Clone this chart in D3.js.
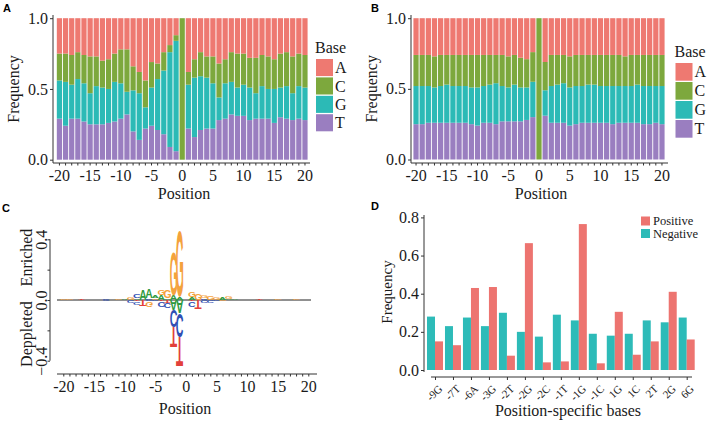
<!DOCTYPE html>
<html><head><meta charset="utf-8">
<script src="https://cdn.jsdelivr.net/npm/d3@7"></script>
<style>
html,body{margin:0;padding:0;background:#fff;}
svg{display:block;}
text{font-family:"Liberation Serif","Times New Roman",serif;}
</style></head><body>
<svg id="chart" width="708" height="422"></svg>
<script>
// ---------- data ----------
const positions = [-20,-19,-18,-17,-16,-15,-14,-13,-12,-11,-10,-9,-8,-7,-6,-5,-4,-3,-2,-1,0,1,2,3,4,5,6,7,8,9,10,11,12,13,14,15,16,17,18,19,20];
const positionTickLabels = [-20,-15,-10,-5,0,5,10,15,20];
const bases = ["A","C","G","T"];
const freqTicks = [0,0.5,1];

// Panel A (positive samples) base frequencies per position
const aT = [.29,.24,.29,.29,.27,.25,.25,.25,.26,.27,.29,.32,.20,.14,.22,.24,.21,.18,.09,.06,0,.22,.16,.21,.22,.22,.28,.29,.32,.31,.31,.28,.29,.29,.29,.26,.30,.29,.28,.29,.28];
const aG = [.27,.31,.24,.28,.27,.22,.27,.26,.24,.28,.25,.16,.29,.33,.15,.27,.36,.45,.67,.78,0,.31,.42,.38,.36,.32,.16,.25,.23,.20,.22,.23,.18,.23,.21,.24,.21,.23,.19,.23,.23];
const aC = [.19,.20,.21,.19,.20,.26,.21,.19,.21,.20,.24,.30,.17,.15,.19,.18,.11,.13,.05,.04,1,.09,.13,.17,.15,.19,.24,.17,.21,.24,.22,.21,.25,.22,.23,.21,.24,.24,.26,.23,.23];
const aA = [.25,.25,.26,.24,.26,.27,.27,.30,.29,.25,.22,.22,.34,.38,.44,.31,.32,.24,.19,.12,0,.38,.29,.24,.27,.27,.32,.29,.24,.25,.25,.28,.28,.26,.27,.29,.25,.24,.27,.25,.26];

// Panel B (negative samples)
const bT = [.25,.25,.26,.26,.26,.26,.26,.26,.26,.25,.24,.26,.26,.25,.27,.27,.27,.27,.28,.30,0,.31,.26,.26,.26,.24,.25,.26,.26,.26,.26,.26,.25,.26,.26,.26,.26,.25,.25,.26,.25];
const bG = [.27,.27,.26,.25,.26,.27,.26,.26,.26,.26,.27,.26,.27,.29,.25,.24,.26,.24,.23,.25,0,.18,.26,.27,.28,.27,.27,.26,.27,.27,.26,.26,.27,.26,.26,.26,.27,.27,.27,.26,.27];
const bC = [.22,.22,.22,.22,.22,.21,.22,.22,.22,.23,.23,.22,.21,.20,.22,.22,.21,.21,.20,.21,1,.20,.22,.21,.20,.22,.22,.22,.21,.21,.22,.22,.22,.22,.21,.22,.21,.22,.22,.22,.22];
const bA = [.26,.26,.26,.27,.26,.26,.26,.26,.26,.26,.26,.26,.26,.26,.26,.27,.26,.28,.29,.24,0,.31,.26,.26,.26,.27,.26,.26,.26,.26,.26,.26,.26,.26,.27,.26,.26,.26,.26,.26,.26];

// Panel C (two-sample logo): enriched / depleted heights per position
const logoTicks = [-0.4,-0.2,0,0.2,0.4];
const logoTickLabels = [-0.4,0,0.4];
const enrA = [0,0,0,0,0,0,0,0,0,0,.006,0,.01,.065,.06,.015,.03,.01,.03,.02,0,.02,0,0,0,0,.015,.008,.006,0,0,0,0,0,0,0,0,0,0,0,0];
const enrC = [0,0,0,0,0,0,0,.01,0,0,0,0,.025,0,.01,0,0,0,0,0,0,0,0,.01,0,0,0,0,0,0,0,0,0,0,0,0,0,0,0,0,0];
const enrG = [.005,.005,0,0,0,0,0,0,0,.004,0,.02,0,0,0,.01,.035,.05,.29,.43,0,.035,.04,.02,.025,.02,0,.012,0,0,0,0,0,0,0,.005,0,0,.004,0,0];
const enrT = [0,0,0,.005,0,0,0,0,0,0,0,0,0,0,0,0,0,0,0,0,0,0,0,0,0,0,0,0,0,0,0,0,.004,0,0,0,0,0,0,0,0];
const depA = [0,0,0,0,0,0,0,0,0,0,0,0,0,0,0,0,0,0,.066,.088,0,0,0,0,0,0,0,0,0,0,0,0,0,0,0,0,0,0,0,0,0];
const depC = [0,0,0,0,0,0,0,.008,0,0,0,.015,.015,0,.01,.01,.03,.035,.11,.154,0,.035,0,.02,.015,.01,0,0,0,0,0,0,0,0,0,0,0,0,0,0,0];
const depG = [0,0,0,0,0,0,0,0,0,0,0,0,0,0,.035,0,0,0,0,0,0,0,0,0,0,0,.005,0,0,0,0,0,0,0,0,0,0,0,0,0,0];
const depT = [0,0,0,0,0,0,0,0,0,0,0,0,.01,.045,0,0,.01,.02,.14,.198,0,.01,.055,0,0,0,0,0,0,0,0,0,0,0,0,0,0,0,0,0,0];

// Panel D
const dCategories = ["-9G","-7T","-6A","-3G","-2T","-2G","-2C","-1T","-1G","-1C","1G","1C","2T","2G","6G"];
const dNegative = [0.28,0.23,0.275,0.23,0.30,0.20,0.175,0.29,0.26,0.19,0.18,0.19,0.26,0.25,0.275];
const dPositive = [0.15,0.13,0.43,0.435,0.075,0.665,0.04,0.045,0.765,0.035,0.305,0.08,0.15,0.41,0.16];
const dTicks = [0,0.2,0.4,0.6,0.8];

// ---------- styles ----------
const baseColors = {A:"#EE7971", C:"#7DA83D", G:"#2CBAB6", T:"#9A7EC0"};
const logoColors = {A:"#2F9A3E", C:"#2F4FB4", G:"#F4A23C", T:"#E2403A"};
const dColors = {Positive:"#ED7470", Negative:"#2DBBB8"};
const axisColor = "#333";
const textColor = "#1a1a1a";

const svg = d3.select("#chart");

function panelLabel(t, x, y){
  svg.append("text").attr("x",x).attr("y",y).text(t)
    .style("font-family","'Liberation Sans',Arial,sans-serif").style("font-weight","bold").style("font-size","11px").style("fill","#000");
}
function styleTicks(sel, size){
  sel.selectAll("text").style("font-size",size).style("font-family","'Liberation Serif',serif").style("fill",textColor);
  sel.selectAll("line").attr("stroke",axisColor);
  sel.select(".domain").remove();
}

// ---------- Panels A & B ----------
function freqPanel(o){
  const g = svg.append("g");
  const x = d3.scaleBand().domain(positions).range(o.xRange).paddingInner(0.15).paddingOuter(0.15);
  const y = d3.scaleLinear().domain([0,1]).range(o.yRange);
  const rows = positions.map((p,i)=>({pos:p, T:o.T[i], G:o.G[i], C:o.C[i], A:o.A[i]}));
  const layers = d3.stack().keys(["T","G","C","A"])(rows);
  g.selectAll("g.layer").data(layers).join("g").attr("class","layer")
    .attr("fill", d=>baseColors[d.key])
    .selectAll("rect").data(d=>d).join("rect")
    .attr("x", d=>x(d.data.pos)).attr("width", x.bandwidth())
    .attr("y", d=>y(d[1])).attr("height", d=>Math.max(0, y(d[0])-y(d[1])));

  const ya = g.append("g").attr("transform",`translate(${o.axisX},0)`)
    .call(d3.axisLeft(y).tickValues(freqTicks).tickFormat(d3.format(".1f")).tickSize(3).tickPadding(2));
  styleTicks(ya,"16px");
  g.append("line").attr("x1",o.axisX).attr("x2",o.axisX).attr("y1",o.axisTop).attr("y2",o.axisBottom).attr("stroke",axisColor);

  const xa = g.append("g").attr("transform",`translate(0,${o.axisBottom})`)
    .call(d3.axisBottom(x).tickSize(2.5).tickPadding(4).tickFormat(d=> positionTickLabels.includes(d) ? d : ""));
  styleTicks(xa,"16px");
  g.append("line").attr("x1",o.axisX).attr("x2",o.xAxisEnd).attr("y1",o.axisBottom).attr("y2",o.axisBottom).attr("stroke",axisColor);

  g.append("text").attr("transform",`translate(${o.yTitleX},${(o.yRange[0]+o.yRange[1])/2}) rotate(-90)`)
    .attr("text-anchor","middle").style("font-size","16px").style("fill",textColor).text("Frequency");
  g.append("text").attr("x",o.xTitleX).attr("y",199).attr("text-anchor","middle").style("font-size","16px").style("fill",textColor).text("Position");

  g.append("text").attr("x",o.legX-1).attr("y",o.legY-6).style("font-size","16px").style("fill",textColor).text("Base");
  bases.forEach((b,i)=>{
    g.append("rect").attr("x",o.legX).attr("y",o.legY+i*o.legStep).attr("width",17).attr("height",o.legStep-1.3).attr("fill",baseColors[b]);
    g.append("text").attr("x",o.legX+19).attr("y",o.legY+i*o.legStep+(o.legStep-1.3)/2).attr("dy","0.35em")
      .style("font-size","16px").style("fill",textColor).text(b);
  });
}

freqPanel({T:aT,G:aG,C:aC,A:aA, xRange:[55.9,308.5], yRange:[159.7,18.2], axisX:53, axisTop:15, axisBottom:163, xAxisEnd:310,
  yTitleX:18.5, xTitleX:184, legX:316, legY:59, legStep:18.4});
freqPanel({T:bT,G:bG,C:bC,A:bA, xRange:[412.5,665.5], yRange:[159.5,18.2], axisX:411, axisTop:15, axisBottom:163, xAxisEnd:668,
  yTitleX:377, xTitleX:541, legX:675.5, legY:63, legStep:19});
panelLabel("A",3,12);
panelLabel("B",371,12);

// ---------- Panel C : two-sample logo ----------
(function(){
  const g = svg.append("g");
  const x = d3.scaleLinear().domain([-20,20]).range([63.3,308.3]);
  const y = d3.scaleLinear().domain([-0.4,0.4]).range([360.7,239.3]);

  const mctx = document.createElement("canvas").getContext("2d");
  mctx.font = "bold 100px 'Liberation Sans'";
  const gm = {};
  bases.forEach(L=>{ const m = mctx.measureText(L);
    gm[L] = {l:m.actualBoundingBoxLeft, r:m.actualBoundingBoxRight, a:m.actualBoundingBoxAscent, d:m.actualBoundingBoxDescent}; });

  const enr = {A:enrA,C:enrC,G:enrG,T:enrT};
  const dep = {A:depA,C:depC,G:depG,T:depT};
  const letterW = 7.0;
  const letters = [];
  positions.forEach((p,i)=>{
    const up = bases.map(b=>({b, h:enr[b][i]})).filter(d=>d.h>0).sort((a,c)=>a.h-c.h);
    let acc = 0;
    up.forEach(d=>{ letters.push({pos:p, b:d.b, v0:acc, v1:acc+d.h, flip:false}); acc += d.h; });
    const dn = bases.map(b=>({b, h:dep[b][i]})).filter(d=>d.h>0).sort((a,c)=>a.h-c.h);
    acc = 0;
    dn.forEach(d=>{ letters.push({pos:p, b:d.b, v0:acc-d.h, v1:acc, flip:true}); acc -= d.h; });
  });

  g.append("line").attr("x1",57).attr("x2",311).attr("y1",y(0)).attr("y2",y(0)).attr("stroke","#222").attr("stroke-width",1);

  g.selectAll("text.letter").data(letters).join("text").attr("class","letter")
    .text(d=>d.b)
    .style("font-family","'Liberation Sans',Arial,sans-serif").style("font-weight","bold").style("font-size","100px")
    .style("fill", d=>logoColors[d.b])
    .attr("transform", d=>{
      const m = gm[d.b];
      const iw = m.l + m.r, ih = m.a + m.d;
      const top = y(d.v1), h = y(d.v0) - y(d.v1);
      const sx = letterW/iw, sy = h/ih;
      const x0 = x(d.pos) - letterW/2;
      if(!d.flip) return `translate(${x0},${top}) scale(${sx},${sy}) translate(${m.l},${m.a})`;
      return `translate(${x0},${top+h}) scale(${sx},${-sy}) translate(${m.l},${m.a})`;
    });

  const ya = g.append("g").attr("transform","translate(50,0)")
    .call(d3.axisLeft(y).tickValues(logoTicks).tickSize(2.5).tickFormat(d=> logoTickLabels.includes(d) ? d3.format(".1f")(d) : ""));
  styleTicks(ya,"16px");
  ya.selectAll("text").attr("x",0).attr("y",-3).attr("dy",0).attr("transform","rotate(-90)").attr("text-anchor","middle");
  g.append("line").attr("x1",50).attr("x2",50).attr("y1",y(0.4)).attr("y2",y(-0.4)).attr("stroke",axisColor);

  const xa = g.append("g").attr("transform","translate(0,374)")
    .call(d3.axisBottom(x).tickValues(positions).tickSize(2.5).tickPadding(4).tickFormat(d=> positionTickLabels.includes(d) ? d : ""));
  styleTicks(xa,"16px");
  g.append("line").attr("x1",57).attr("x2",317).attr("y1",374).attr("y2",374).attr("stroke",axisColor);

  g.append("text").attr("transform",`translate(32,257.5) rotate(-90)`).attr("text-anchor","middle").style("font-size","16px").style("fill",textColor).text("Enriched");
  g.append("text").attr("transform",`translate(32,334) rotate(-90)`).attr("text-anchor","middle").style("font-size","16px").style("fill",textColor).text("Deppleted");
  g.append("text").attr("x",185).attr("y",414).attr("text-anchor","middle").style("font-size","16px").style("fill",textColor).text("Position");
})();
panelLabel("C",2,212);

// ---------- Panel D ----------
(function(){
  const g = svg.append("g");
  const x = d3.scalePoint().domain(dCategories).range([435,686.7]);
  const inner = d3.scaleBand().domain(["Negative","Positive"]).range([-8,8]);
  const y = d3.scaleLinear().domain([0,0.8]).range([370,217.4]);
  const bars = [];
  dCategories.forEach((c,i)=>{
    bars.push({cat:c, key:"Negative", v:dNegative[i]});
    bars.push({cat:c, key:"Positive", v:dPositive[i]});
  });
  g.selectAll("rect").data(bars).join("rect")
    .attr("x", d=>x(d.cat)+inner(d.key)).attr("width", inner.bandwidth())
    .attr("y", d=>y(d.v)).attr("height", d=>y(0)-y(d.v)).attr("fill", d=>dColors[d.key]);

  const ya = g.append("g").attr("transform","translate(424,0)")
    .call(d3.axisLeft(y).tickValues(dTicks).tickFormat(d3.format(".1f")).tickSize(3).tickPadding(2));
  styleTicks(ya,"16px");
  g.append("line").attr("x1",424).attr("x2",424).attr("y1",215).attr("y2",372).attr("stroke",axisColor);

  const xa = g.append("g").attr("transform","translate(0,377)")
    .call(d3.axisBottom(x).tickSize(3).tickFormat(d=>d));
  styleTicks(xa,"11px");
  xa.selectAll("text").attr("x",0).attr("y",0).attr("dy","0.71em").attr("text-anchor","end")
    .attr("transform","translate(2,7) rotate(-45)");
  g.append("line").attr("x1",431).attr("x2",692).attr("y1",377).attr("y2",377).attr("stroke",axisColor);

  g.append("text").attr("transform",`translate(392,292) rotate(-90)`).attr("text-anchor","middle").style("font-size","15px").style("fill",textColor).text("Frequency");
  g.append("text").attr("x",568).attr("y",416).attr("text-anchor","middle").style("font-size","16px").style("fill",textColor).text("Position-specific bases");

  ["Positive","Negative"].forEach((k,i)=>{
    g.append("rect").attr("x",641).attr("y",216.5+i*12.5).attr("width",9).attr("height",9).attr("fill",dColors[k]);
    g.append("text").attr("x",653).attr("y",221+i*12.5).attr("dy","0.35em").style("font-size","12.5px").style("fill",textColor).text(k);
  });
})();
panelLabel("D",371,210);
</script>
</body></html>
